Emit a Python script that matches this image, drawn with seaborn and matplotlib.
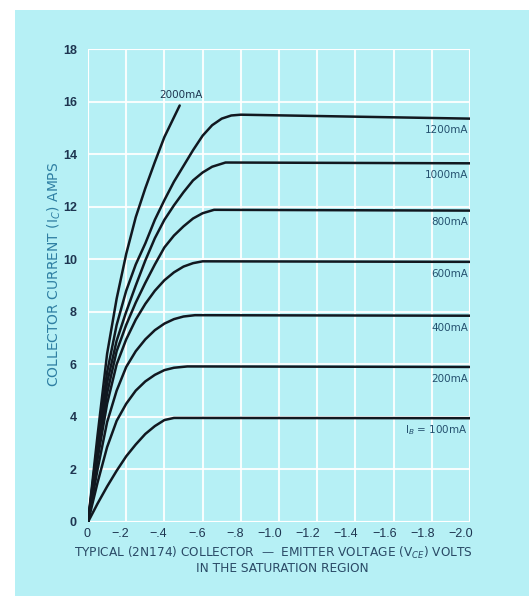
import numpy as np
import pandas as pd
import seaborn as sns
import matplotlib.pyplot as plt
from matplotlib.patches import Rectangle
from matplotlib.transforms import ScaledTranslation

# collector voltage (magnitude, volts) and collector current (amps)
v_100 = [0, 0.05, 0.1, 0.15, 0.2, 0.25, 0.3, 0.35, 0.4, 0.45, 2.0]
i_100 = [0, 0.7, 1.35, 1.95, 2.5, 2.95, 3.35, 3.65, 3.88, 3.96, 3.95]

v_200 = [0, 0.05, 0.1, 0.15, 0.2, 0.25, 0.3, 0.35, 0.4, 0.45, 0.52, 2.0]
i_200 = [0, 1.5, 2.85, 3.85, 4.5, 5.0, 5.35, 5.6, 5.78, 5.87, 5.92, 5.9]

v_400 = [0, 0.05, 0.1, 0.15, 0.2, 0.25, 0.3, 0.35, 0.4, 0.45, 0.5, 0.56, 2.0]
i_400 = [0, 2.0, 3.8, 5.0, 5.9, 6.5, 6.95, 7.3, 7.55, 7.72, 7.82, 7.87, 7.85]

v_600 = [0, 0.05, 0.1, 0.15, 0.2, 0.25, 0.3, 0.35, 0.4, 0.45, 0.5, 0.55, 0.6, 2.0]
i_600 = [0, 2.4, 4.5, 6.0, 6.95, 7.7, 8.3, 8.8, 9.2, 9.5, 9.72, 9.85, 9.92, 9.9]

v_800 = [0, 0.05, 0.1, 0.15, 0.2, 0.25, 0.3, 0.35, 0.4, 0.45, 0.5, 0.55, 0.6, 0.66, 2.0]
i_800 = [0, 2.6, 4.9, 6.5, 7.5, 8.35, 9.1, 9.8, 10.45, 10.9, 11.25, 11.55, 11.75, 11.88, 11.85]

v_1000 = [0, 0.05, 0.1, 0.15, 0.2, 0.25, 0.3, 0.35, 0.4, 0.45, 0.5, 0.55, 0.6, 0.65, 0.72, 2.0]
i_1000 = [0, 2.8, 5.3, 6.9, 8.0, 9.0, 9.95, 10.8, 11.5, 12.05, 12.55, 13.0, 13.3, 13.52, 13.68, 13.65]

v_1200 = [0, 0.05, 0.1, 0.15, 0.2, 0.25, 0.3, 0.35, 0.4, 0.45, 0.5, 0.55, 0.6, 0.65, 0.7, 0.75, 0.8, 2.0]
i_1200 = [0, 3.0, 5.7, 7.5, 8.8, 9.8, 10.6, 11.5, 12.25, 12.95, 13.55, 14.15, 14.7, 15.1, 15.35, 15.47, 15.5, 15.35]

v_2000 = [0, 0.05, 0.1, 0.15, 0.2, 0.25, 0.3, 0.35, 0.4, 0.45, 0.48]
i_2000 = [0, 3.3, 6.4, 8.5, 10.2, 11.6, 12.7, 13.7, 14.65, 15.4, 15.85]

curve_names = ['100', '200', '400', '600', '800', '1000', '1200', '2000']
curve_v = [v_100, v_200, v_400, v_600, v_800, v_1000, v_1200, v_2000]
curve_i = [i_100, i_200, i_400, i_600, i_800, i_1000, i_1200, i_2000]

# right-hand labels: text and the current level they sit under
label_text = ['I$_B$ = 100mA', '200mA', '400mA', '600mA', '800mA', '1000mA', '1200mA']
label_level = [3.95, 5.9, 7.85, 9.9, 11.85, 13.65, 15.35]

xticks = [0, -0.2, -0.4, -0.6, -0.8, -1.0, -1.2, -1.4, -1.6, -1.8, -2.0]
xtick_labels = ['0', '\u2212.2', '\u2212.4', '\u2212.6', '\u2212.8', '\u22121.0',
                '\u22121.2', '\u22121.4', '\u22121.6', '\u22121.8', '\u22122.0']
yticks = [0, 2, 4, 6, 8, 10, 12, 14, 16, 18]

rows = []
for name, vs, cs in zip(curve_names, curve_v, curve_i):
    for v, c in zip(vs, cs):
        rows.append({'curve': name, 'vce': -v, 'ic': c})
df = pd.DataFrame(rows)

cyan = '#b6f0f5'
navy = '#1e3550'
teal = '#2f7fa3'

sns.set_style('white', {'axes.facecolor': cyan})
plt.rcParams['font.family'] = ['Liberation Sans', 'DejaVu Sans']

fig = plt.figure(figsize=(5.29, 6.01), dpi=100)
fig.patch.set_facecolor('white')
fig.patches.append(Rectangle((15 / 529, 5 / 601), 514 / 529, 586 / 601,
                             transform=fig.transFigure, facecolor=cyan,
                             edgecolor='none', zorder=-10))

ax = fig.add_axes([88 / 529, 1 - 522 / 601, 382 / 529, 473 / 601])
ax.set_facecolor(cyan)
ax.set_zorder(5)

sns.lineplot(data=df, x='vce', y='ic', hue='curve', units='curve', estimator=None,
             sort=False, palette=['#111820'] * len(curve_names), legend=False,
             linewidth=1.8, ax=ax, zorder=3)

ax.set_xlim(0, -2.0)
ax.set_ylim(0, 18)
ax.set_xticks(xticks)
ax.set_xticklabels(xtick_labels)
ax.set_yticks(yticks)
ax.set_yticklabels([str(t) for t in yticks])
ax.grid(True, color='white', linewidth=1.5, alpha=0.9, zorder=1)
ax.set_axisbelow(True)
for s in ax.spines.values():
    s.set_visible(False)
ax.axhline(0, color='white', linewidth=1.5, zorder=1)
ax.axvline(0, color='white', linewidth=1.5, zorder=1)
ax.axhline(18, color='white', linewidth=1.5, zorder=1)
ax.axvline(-2.0, color='white', linewidth=1.5, zorder=1)

ax.tick_params(axis='y', length=0, pad=8)
ax.tick_params(axis='x', length=0, pad=4)
for t in ax.get_yticklabels():
    t.set_fontsize(9)
    t.set_fontweight('bold')
    t.set_color(navy)
shift = ScaledTranslation(3 / 100, 0, fig.dpi_scale_trans)
for t in ax.get_xticklabels():
    t.set_fontsize(9)
    t.set_color(navy)
    t.set_ha('right')
    t.set_transform(t.get_transform() + shift)
ax.set_xlabel('')
ax.set_ylabel('')

for txt, lvl in zip(label_text, label_level):
    ax.text(-1.99, lvl - 0.45, txt, ha='right', va='center', fontsize=7.5,
            family='DejaVu Sans', color='#24506e')
ax.text(-0.485, 16.25, '2000mA', ha='center', va='center', fontsize=7.5,
        family='DejaVu Sans', color=navy)

fig.text(273 / 529, 1 - 553 / 601, 'TYPICAL (2N174) COLLECTOR  \u2014  EMITTER VOLTAGE (V$_{CE}$) VOLTS',
         ha='center', va='center', fontsize=8.7, family='DejaVu Sans', color='#2a4a66')
fig.text(282 / 529, 1 - 568 / 601, 'IN THE SATURATION REGION',
         ha='center', va='center', fontsize=8.7, family='DejaVu Sans', color='#2a4a66')
fig.text(54 / 529, 1 - 274 / 601, 'COLLECTOR CURRENT (I$_C$) AMPS', rotation=90,
         ha='center', va='center', fontsize=10, family='DejaVu Sans', color=teal)

fig.savefig('out.png', dpi=100)
